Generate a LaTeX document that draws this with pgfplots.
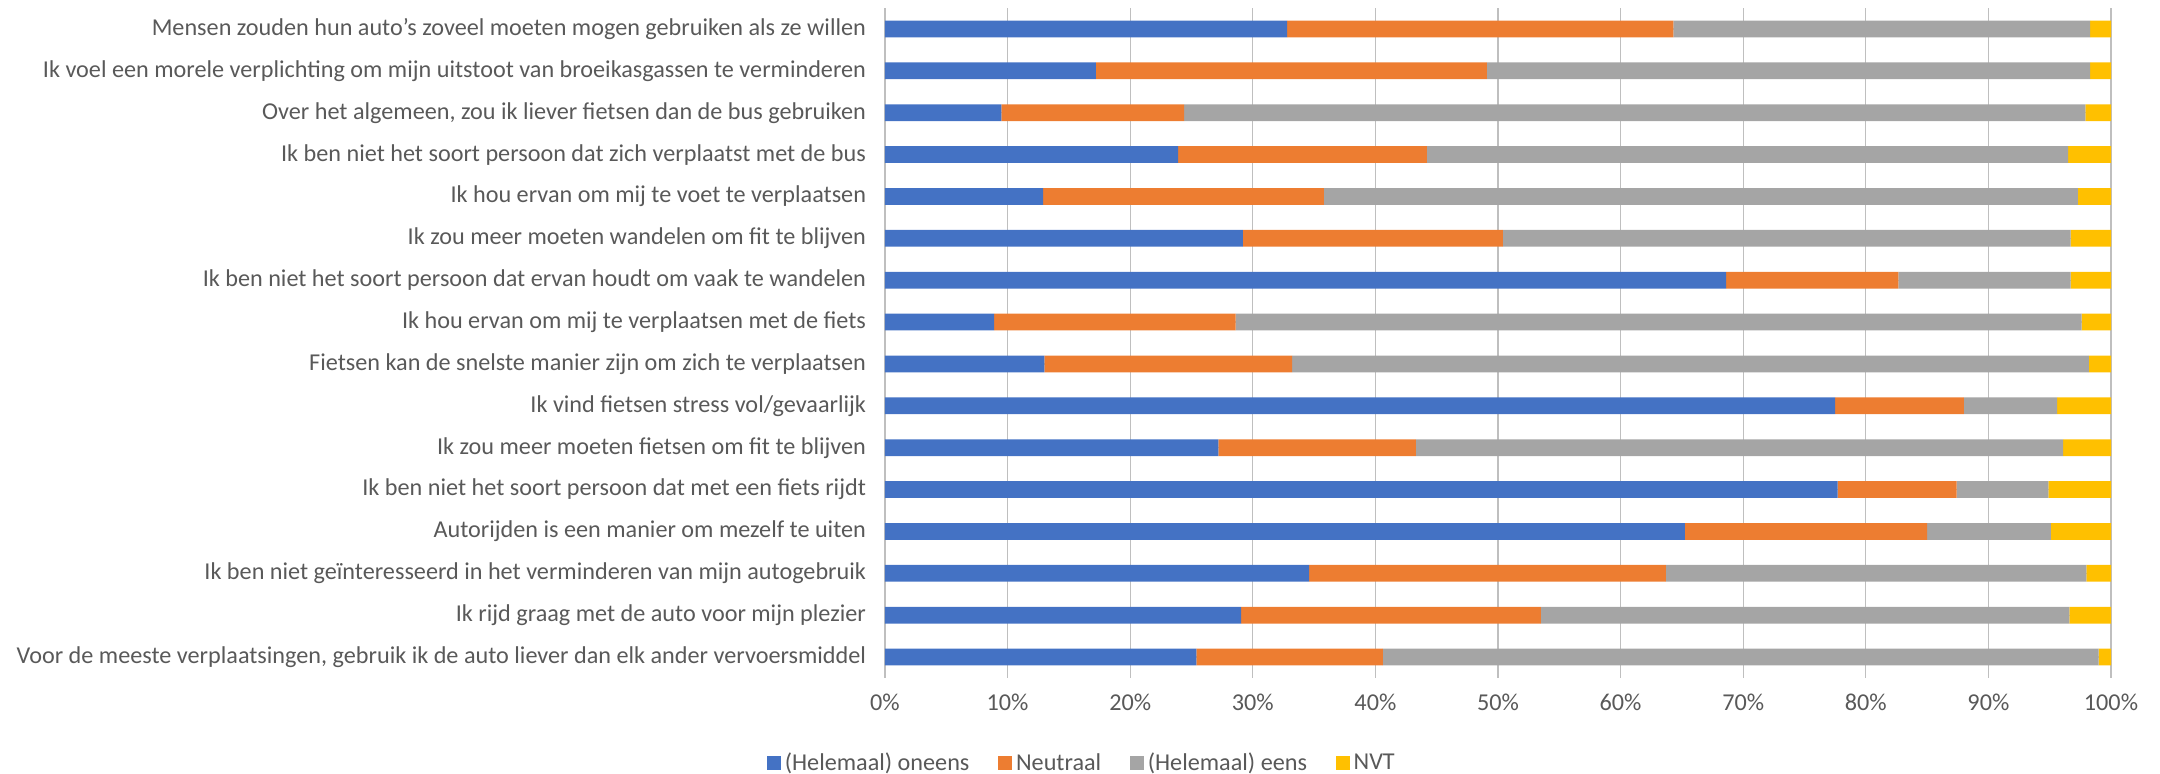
\documentclass[border=0pt]{standalone}
\usepackage{pgfplots}
\usepackage{pgfplotstable}
\pgfplotsset{compat=1.18}
\usepackage{fontspec}
\setmainfont{Carlito}

\definecolor{cblue}{HTML}{4472C4}
\definecolor{corange}{HTML}{ED7D31}
\definecolor{cgray}{HTML}{A5A5A5}
\definecolor{cyellow}{HTML}{FFC000}
\definecolor{txt}{HTML}{595959}
\definecolor{grid}{HTML}{D9D9D9}

% row (0 = top), oneens, neutraal, eens, nvt  (percent)
\pgfplotstableread{
row oneens neutraal eens nvt
0  32.8  31.5  34.0  1.7
1  17.2  31.9  49.2  1.7
2   9.5  14.9  73.5  2.1
3  23.9  20.3  52.3  3.5
4  12.9  22.9  61.5  2.7
5  29.2  21.2  46.3  3.3
6  68.6  14.05 14.05 3.3
7   8.9  19.7  69.0  2.4
8  13.0  20.2  65.0  1.8
9  77.5  10.5   7.6  4.4
10 27.2  16.1  52.8  3.9
11 77.7   9.7   7.5  5.1
12 65.25 19.75 10.1  4.9
13 34.6  29.1  34.3  2.0
14 29.05 24.45 43.1  3.4
15 25.4  15.2  58.4  1.0
}\answers

\begin{document}
\begin{tikzpicture}
\useasboundingbox (0,0) rectangle (1080pt,386.5pt);
\begin{axis}[
  at={(442.5pt,47.5pt)}, anchor=south west,
  scale only axis, width=613pt, height=335pt,
  xbar stacked, bar width=8.4pt,
  y dir=reverse,
  xmin=0, xmax=100, ymin=-0.5, ymax=15.5,
  axis line style={draw=none},
  xmajorgrids, grid style={grid, line width=0.6pt},
  xtick={0,10,...,100},
  xticklabel={\pgfmathprintnumber{\tick}\%},
  ytick={0,...,15},
  yticklabels={
    {Mensen zouden hun auto's zoveel moeten mogen gebruiken als ze willen},
    {Ik voel een morele verplichting om mijn uitstoot van broeikasgassen te verminderen},
    {Over het algemeen, zou ik liever fietsen dan de bus gebruiken},
    {Ik ben niet het soort persoon dat zich verplaatst met de bus},
    {Ik hou ervan om mij te voet te verplaatsen},
    {Ik zou meer moeten wandelen om fit te blijven},
    {Ik ben niet het soort persoon dat ervan houdt om vaak te wandelen},
    {Ik hou ervan om mij te verplaatsen met de fiets},
    {Fietsen kan de snelste manier zijn om zich te verplaatsen},
    {Ik vind fietsen stress vol/gevaarlijk},
    {Ik zou meer moeten fietsen om fit te blijven},
    {Ik ben niet het soort persoon dat met een fiets rijdt},
    {Autorijden is een manier om mezelf te uiten},
    {Ik ben niet geïnteresseerd in het verminderen van mijn autogebruik},
    {Ik rijd graag met de auto voor mijn plezier},
    {Voor de meeste verplaatsingen, gebruik ik de auto liever dan elk ander vervoersmiddel}
  },
  major tick length=0pt,
  /pgf/number format/assume math mode=true,
  ticklabel style={font=\fontsize{12.1}{14}\selectfont, text=txt},
  xticklabel style={yshift=-4.5pt},
  yticklabel style={xshift=-6pt},
  legend columns=4,
  legend style={at={(0.1615,-0.127)}, anchor=center, draw=none,
    font=\fontsize{12.1}{14}\selectfont, text=txt,
    /tikz/every even column/.append style={column sep=12.5pt}},
  legend image code/.code={\draw[#1,draw=none] (0pt,-3.4pt) rectangle (6.8pt,3.4pt);},
]
\addplot[fill=cblue, draw=none] table[x=oneens, y=row] {\answers};
\addplot[fill=corange, draw=none] table[x=neutraal, y=row] {\answers};
\addplot[fill=cgray, draw=none] table[x=eens, y=row] {\answers};
\addplot[fill=cyellow, draw=none] table[x=nvt, y=row] {\answers};
\legend{(Helemaal) oneens, Neutraal, (Helemaal) eens, NVT}
\end{axis}
\end{tikzpicture}
\end{document}
